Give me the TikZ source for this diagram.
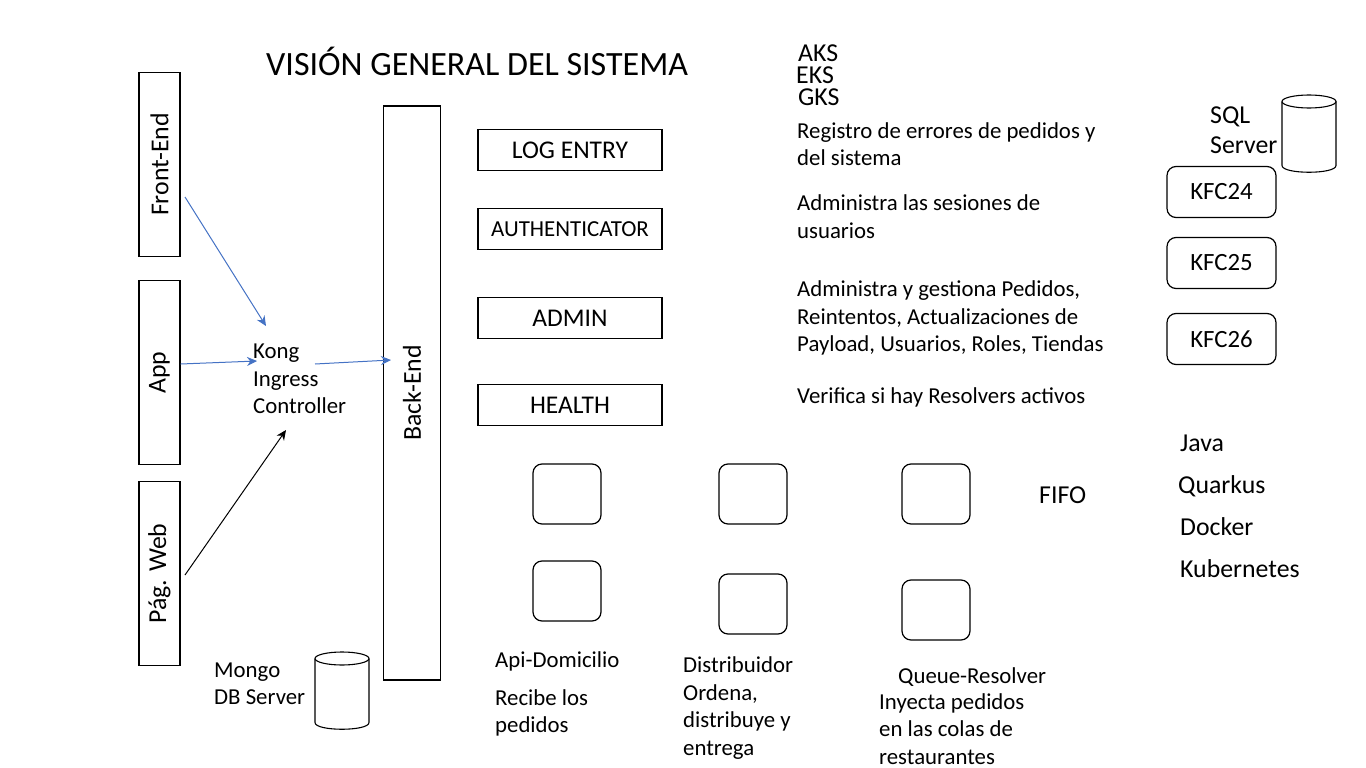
\documentclass[tikz,border=0pt]{standalone}
\usepackage{fontspec}
\setmainfont{Carlito}
\usepackage{xcolor}
\usetikzlibrary{arrows.meta}
\definecolor{kongblue}{RGB}{68,114,196}
\tikzset{
  lbl/.style={anchor=west, inner sep=0pt, align=left, font=\fontsize{22.8}{27.5}\selectfont},
  biglbl/.style={anchor=west, inner sep=0pt, align=left, font=\fontsize{25.8}{30}\selectfont},
  clusterlbl/.style={anchor=west, inner sep=0pt, align=left, font=\fontsize{25.8}{22}\selectfont},
  sidebox/.style={draw, line width=1.4pt, inner sep=0pt, font=\fontsize{25.8}{30}\selectfont},
  svcbox/.style={draw, line width=1.4pt, minimum width=184, minimum height=41, inner sep=0pt, font=\fontsize{25.5}{30}\selectfont},
  podbox/.style={draw, line width=1.2pt, rounded corners=9pt, minimum width=68, minimum height=60, inner sep=0pt},
  kfcbox/.style={draw, line width=1.2pt, rounded corners=9pt, minimum width=109, minimum height=51, inner sep=0pt, font=\fontsize{24.8}{28}\selectfont},
  link/.style={-{Stealth[length=10pt,width=9pt]}, line width=1pt},
  dbdrum/.pic={
    \draw[line width=1.1pt, fill=white] (-27,-32) -- (-27,32) .. controls (-27,41) and (27,41) .. (27,32) -- (27,-32);
    \draw[line width=1.1pt] (0,-32) ellipse [x radius=27pt, y radius=6.5pt];
  },
}
\begin{document}
\begin{tikzpicture}[x=1pt, y=-1pt]
\useasboundingbox (0,0) rectangle (1366,768);

% title and cluster names
\node[anchor=west, inner sep=0pt, font=\fontsize{34}{38}\selectfont] (title) at (266,61) {VISIÓN GENERAL DEL SISTEMA};
\node[clusterlbl] (clusters) at (798,75) {AKS\\\hspace*{-2pt}EKS\\GKS};

% left column
\node[sidebox, minimum width=184, minimum height=41, rotate=90] (front) at (159.5,164.5) {Front-End};
\node[sidebox, minimum width=184, minimum height=41, rotate=90] (app) at (159.5,372.5) {App};
\node[sidebox, minimum width=184, minimum height=41, rotate=90] (web) at (159.5,573.5) {Pág. Web};
\node[sidebox, minimum width=574, minimum height=57, rotate=90] (back) at (412,393) {Back-End};

% gateway
\node[lbl] (kong) at (253,379) {Kong\\Ingress\\Controller};
\coordinate (frontout) at (185,197);
\coordinate (kongtop) at (266,326);
\coordinate (appin) at (257,361);
\coordinate (kongout) at (315,364);
\coordinate (backin) at (391,360);
\coordinate (webout) at (185,575);
\coordinate (kongbot) at (286,430);
\draw[link, kongblue] (frontout) -- (kongtop);
\draw[link, kongblue] (app.south |- 0,364) -- (appin);
\draw[link, kongblue] (kongout) -- (backin);
\draw[link] (webout) -- (kongbot);

% mongo
\node[lbl] (mongo) at (214,684) {Mongo\\DB Server};
\pic (mongodb) at (342,690.5) {dbdrum};

% services
\node[svcbox] (log) at (570,150) {LOG ENTRY};
\node[svcbox, font=\fontsize{22.9}{26}\selectfont] (auth) at (570,229) {AUTHENTICATOR};
\node[svcbox] (admin) at (570,318) {ADMIN};
\node[svcbox] (health) at (570,405) {HEALTH};

% service notes
\node[lbl] (logtxt) at (797,144) {Registro de errores de pedidos y\\del sistema};
\node[lbl] (authtxt) at (797,216.5) {Administra las sesiones de\\usuarios};
\node[lbl] (admintxt) at (797,318) {Administra y gestiona Pedidos,\\Reintentos, Actualizaciones de\\Payload, Usuarios, Roles, Tiendas};
\node[lbl] (healthtxt) at (797,397) {Verifica si hay Resolvers activos};

% pods
\node[podbox] (pa) at (567,494) {};
\node[podbox] (pb) at (753,494) {};
\node[podbox] (pc) at (936,494) {};
\node[podbox] (pd) at (567,591) {};
\node[podbox] (pe) at (753,604) {};
\node[podbox] (pf) at (936,610) {};
\node[biglbl] (fifo) at (1039,495) {FIFO};

% pod notes
\node[lbl] (apidom) at (495,661) {Api-Domicilio};
\node[lbl] (apitxt) at (495,713) {Recibe los\\pedidos};
\node[lbl] (dist) at (683,665) {Distribuidor};
\node[lbl] (disttxt) at (683,722) {Ordena,\\distribuye y\\entrega};
\node[lbl] (queue) at (898,677) {Queue-Resolver};
\node[lbl] (queuetxt) at (879,729) {Inyecta pedidos\\en las colas de\\restaurantes};

% sql side
\node[biglbl] (sql) at (1210,130) {SQL\\Server};
\pic (sqldb) at (1309,133.5) {dbdrum};
\node[kfcbox] (kfca) at (1221.5,192) {KFC24};
\node[kfcbox] (kfcb) at (1221.5,263) {KFC25};
\node[kfcbox] (kfcc) at (1221.5,339) {KFC26};

% stack
\node[biglbl] (java) at (1180,443) {Java};
\node[biglbl] (quarkus) at (1178,486) {Quarkus};
\node[biglbl] (docker) at (1180,527) {Docker};
\node[biglbl] (kube) at (1180,569) {Kubernetes};
\end{tikzpicture}
\end{document}
